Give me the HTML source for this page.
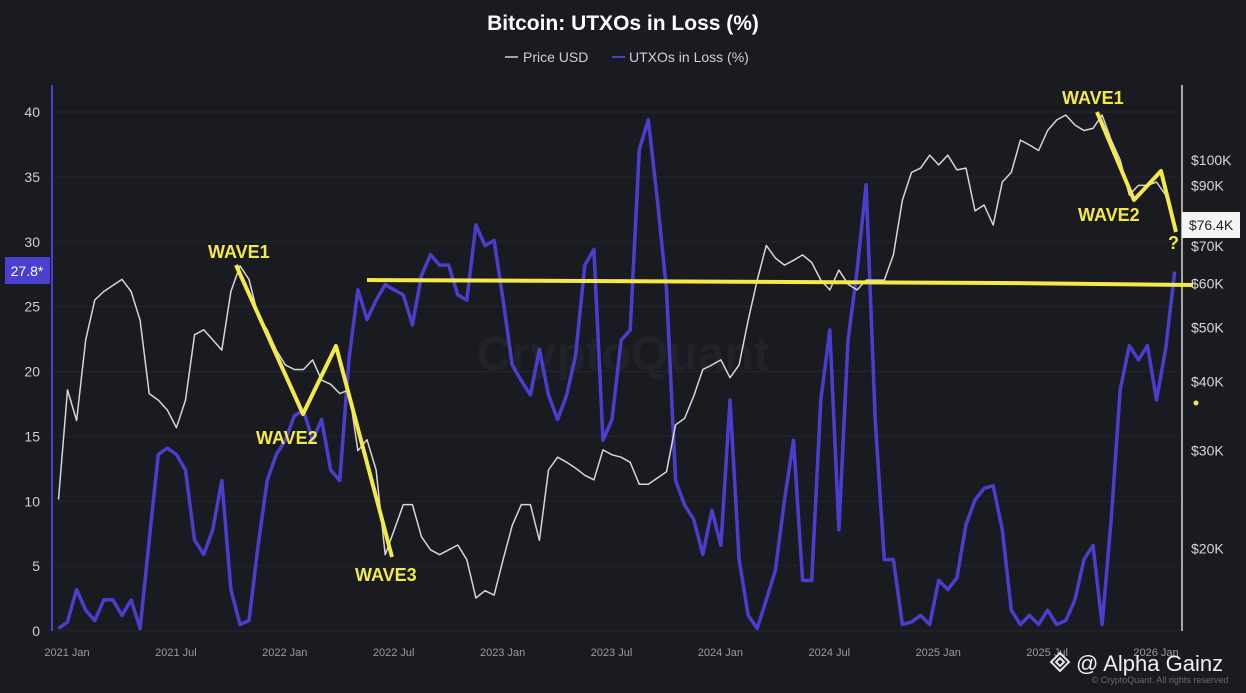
<!DOCTYPE html>
<html><head><meta charset="utf-8">
<style>
html,body{margin:0;padding:0;background:#1a1a21;}
body{width:1246px;height:688px;overflow:hidden;font-family:"Liberation Sans",sans-serif;}
svg text{font-family:"Liberation Sans",sans-serif;}
</style></head>
<body>
<svg id="chart" width="1246" height="688" viewBox="0 0 1246 688" xmlns="http://www.w3.org/2000/svg">
<rect x="0" y="0" width="1246" height="688" fill="#1a1a21"/>
<text x="623" y="30" text-anchor="middle" fill="#ffffff" font-size="21" font-weight="bold">Bitcoin: UTXOs in Loss (%)</text>
<g>
<g><line x1="505" y1="57" x2="518" y2="57" stroke="#cfcfcf" stroke-width="1.5"/><text x="523" y="62" fill="#d0d0d0" font-size="14">Price USD</text></g>
<g><line x1="612" y1="57" x2="625" y2="57" stroke="#4b3fd0" stroke-width="2"/><text x="629" y="62" fill="#d0d0d0" font-size="14">UTXOs in Loss (%)</text></g>
</g>
<g id="grid"></g>
<text x="623" y="370" text-anchor="middle" fill="#222229" font-size="48" font-weight="bold">CryptoQuant</text>
<g id="leftTicks"></g>
<g id="rightTicks"></g>
<g id="xTicks"></g>
<line x1="52" y1="85" x2="52" y2="631" stroke="#4b3fd0" stroke-width="2"/>
<line x1="1182" y1="85" x2="1182" y2="631" stroke="#d8d8d8" stroke-width="1.5"/>
<g id="series"></g>
<g stroke="#f3ea4a" stroke-width="4" fill="none" stroke-linejoin="round">
<polyline points="367,280 1000,283 1193,285"/>
<polyline points="236,265 303,414 336,346 392,557"/>
<polyline points="1097,112 1134,200 1161,171 1176,232"/>
</g>
<g fill="#f3ea4a" font-size="18" font-weight="bold">
<text x="208" y="258">WAVE1</text>
<text x="256" y="444">WAVE2</text>
<text x="355" y="581">WAVE3</text>
<text x="1062" y="104">WAVE1</text>
<text x="1078" y="221">WAVE2</text>
<text x="1168" y="249">?</text>
<circle cx="1196" cy="403" r="2.5"/>
</g>
<g><rect x="5" y="257" width="45" height="27" fill="#4b3fd0"/><text x="27" y="276" text-anchor="middle" fill="#fff" font-size="14">27.8*</text></g>
<g><rect x="1182" y="212" width="58" height="26" fill="#f4f4f4"/><text x="1211" y="230" text-anchor="middle" fill="#222" font-size="14">$76.4K</text></g>
<g>
<g transform="translate(1060,662)" fill="none" stroke="#e8e8e8" stroke-width="2"><path d="M0,-9 L9,0 L0,9 L-9,0 Z"/><path d="M0,-4 L4,0 L0,4 L-4,0 Z"/></g>
<text x="1076" y="671" fill="#f0f0f0" font-size="22">@ Alpha Gainz</text>
<text x="1160" y="683" text-anchor="middle" fill="#6a6a70" font-size="9">© CryptoQuant. All rights reserved</text>
</g>
</svg>
<script>
const startMonth = -0.25;
const stepMonths = 0.5;
const priceK = [24.5,38.6,34,47.5,56,58,59.5,61,58,51.5,38,37,35.5,33,37,48.5,49.5,47.5,45.5,58,64.5,61,52.5,49.5,45.5,42.8,42,42,43.7,40.2,39.5,38,38.6,30,31.4,27.7,19.5,21.6,24,24,21,19.9,19.5,19.9,20.3,19.1,16.3,16.8,16.5,19.1,22,24,24,20.7,27.7,29.2,28.6,27.9,27.1,26.6,30.1,29.5,29.2,28.6,26.1,26.1,26.8,27.5,33.4,34.3,37.6,42,42.8,43.7,40.6,42.8,51.5,60.8,70.2,66.6,64.7,66,67.5,65.4,60.8,58.4,63.4,59.8,58.4,60.8,60.8,60.8,67.5,84.7,95,96.7,102,98,102,96,96.7,81,83,76.4,91.3,95,108.6,106.4,104,113,118,120.5,115.6,113,114,120.5,108.6,100,86.5,90,90,91.3,86.5,76.4];
const utxoLoss = [0.2,0.7,3.2,1.6,0.8,2.4,2.4,1.2,2.4,0.2,7,13.6,14.1,13.6,12.4,7,5.9,7.8,11.6,3.2,0.5,0.8,6.6,11.6,13.6,14.7,16.6,17,14.7,16.3,12.4,11.6,20.9,26.3,24,25.5,26.7,26.3,25.9,23.6,27.4,29,28.2,28.2,25.9,25.5,31.3,29.7,30.1,25.5,20.5,19.3,18.2,21.7,18.2,16.3,18.2,21.3,28.2,29.4,14.7,16.3,22.4,23.2,37.1,39.4,33.2,26.3,11.6,9.7,8.6,5.9,9.3,6.6,17.8,5.5,1.2,0.2,2.4,4.7,10.1,14.7,3.9,3.9,17.8,23.2,7.8,22.4,27.8,34.4,16.3,5.5,5.5,0.5,0.7,1.2,0.5,3.9,3.2,4.1,8.2,10.1,11,11.2,7.8,1.6,0.5,1.2,0.5,1.6,0.5,0.8,2.4,5.5,6.6,0.5,8.6,18.6,22,20.9,22,17.8,21.7,27.7];
const leftTicks = [0,5,10,15,20,25,30,35,40];
const rightTicks = [20,30,40,50,60,70,80,90,100];
const xTickLabels = ["2021 Jan","2021 Jul","2022 Jan","2022 Jul","2023 Jan","2023 Jul","2024 Jan","2024 Jul","2025 Jan","2025 Jul","2026 Jan"];
const xTickMonths = [0,6,12,18,24,30,36,42,48,54,60];

const NS = "http://www.w3.org/2000/svg";
function xPos(m){ return 63 + m * 18.15; }
function yLeft(v){ return 631 - v * 12.975; }
function yRight(k){ return 160 - Math.log10(k / 100) * 556; }
function mk(tag, attrs, parent){ const e = document.createElementNS(NS, tag); for (const k in attrs) e.setAttribute(k, attrs[k]); parent.appendChild(e); return e; }

const grid = document.getElementById('grid');
const lt = document.getElementById('leftTicks');
leftTicks.forEach(v => {
  const gl = mk('line', {x1:53, x2:1180, y1:yLeft(v), y2:yLeft(v), stroke:'#25252d', 'stroke-width':1}, grid);
  
  
  const t = mk('text', {x:40, y:yLeft(v)+5, 'text-anchor':'end', fill:'#cfcfcf', 'font-size':14}, lt);
  t.textContent = v;
  
  
});
const rt = document.getElementById('rightTicks');
rightTicks.forEach(k => {
  if (k === 80) return;
  const t = mk('text', {x:1191, y:yRight(k)+5, fill:'#d8d8d8', 'font-size':14}, rt);
  t.textContent = '$' + k + 'K';
  
  
});
const xt = document.getElementById('xTicks');
xTickLabels.forEach((s, i) => {
  const t = mk('text', {x:xPos(xTickMonths[i])+4, y:656, 'text-anchor':'middle', fill:'#9a9aa2', 'font-size':11}, xt);
  t.textContent = s;
  
  
});

const series = document.getElementById('series');
const up = utxoLoss.map((v, i) => xPos(startMonth + i*stepMonths).toFixed(1) + ',' + yLeft(v).toFixed(1)).join(' ');
const ul = mk('polyline', {points:up, fill:'none', stroke:'#4a3ecf', 'stroke-width':3.5, 'stroke-linejoin':'round'}, series);


const pp = priceK.map((v, i) => xPos(startMonth + i*stepMonths).toFixed(1) + ',' + yRight(v).toFixed(1)).join(' ');
const pl = mk('polyline', {points:pp, fill:'none', stroke:'#d6d6d6', 'stroke-width':1.5, 'stroke-linejoin':'round'}, series);


</script>
</body></html>
